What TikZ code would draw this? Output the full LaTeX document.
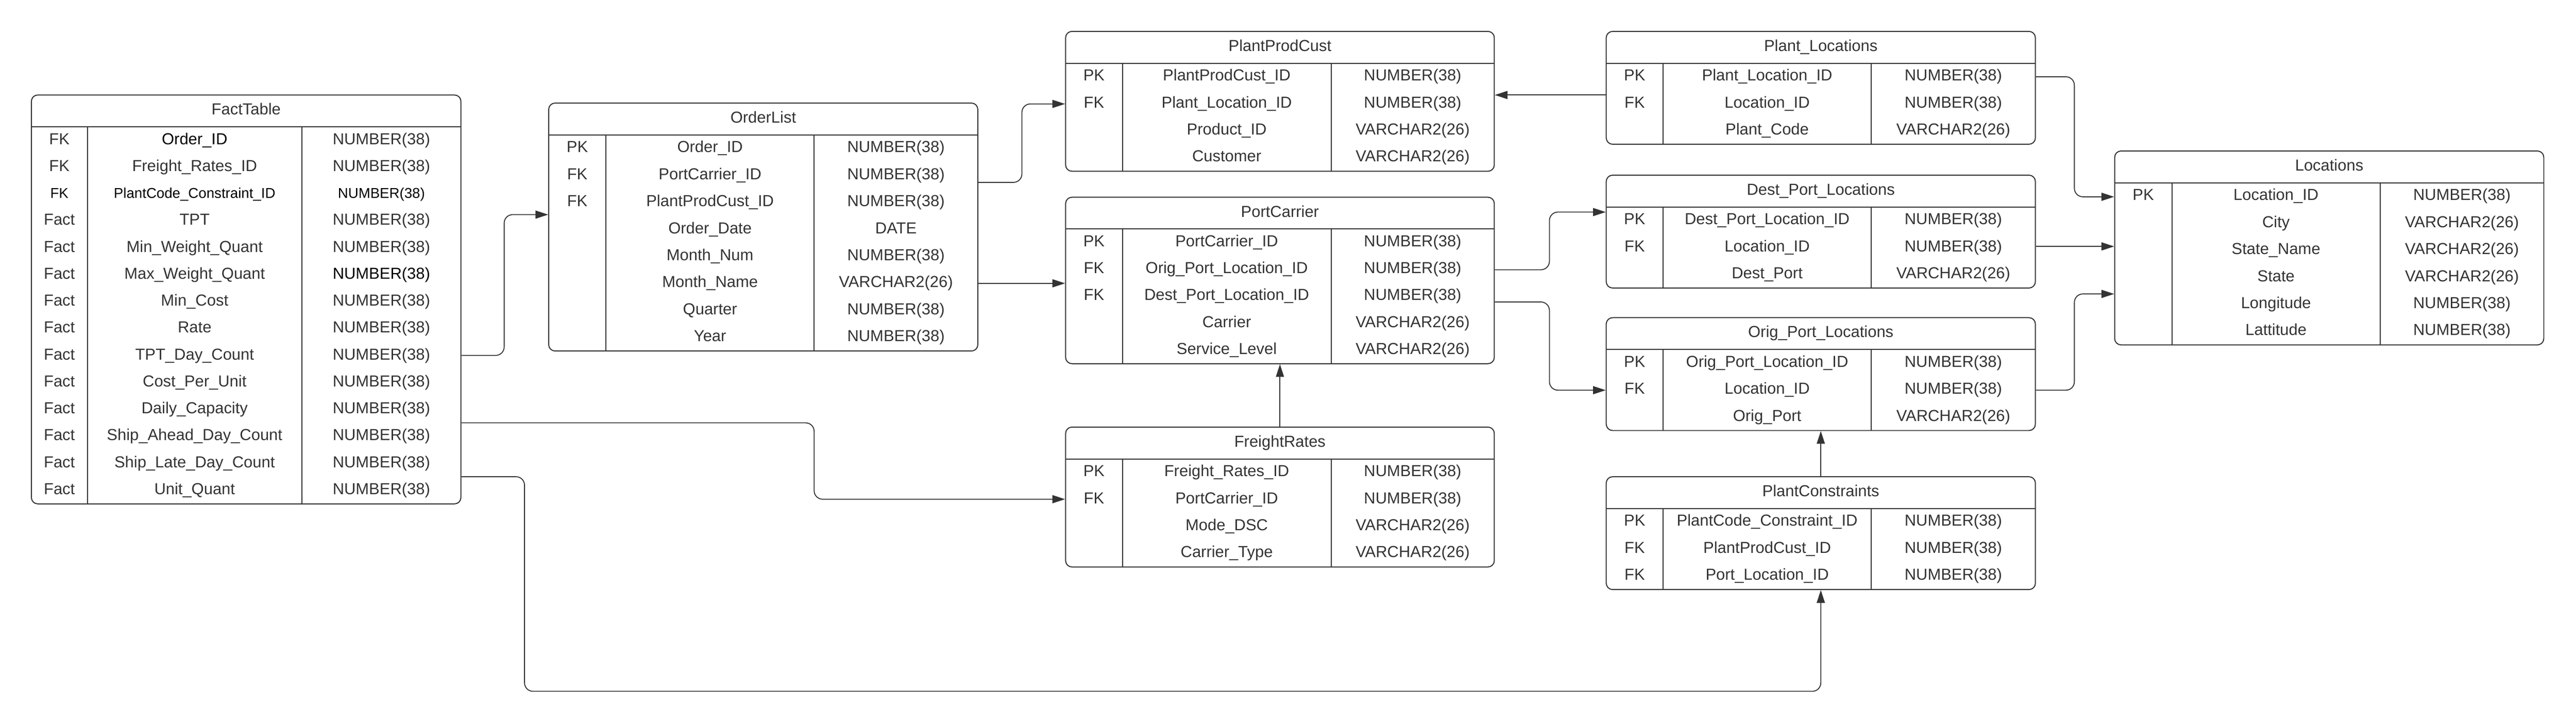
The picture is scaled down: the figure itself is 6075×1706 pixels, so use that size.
\documentclass[tikz,border=0pt]{standalone}
\usepackage{fontspec}
\setmainfont{Liberation Sans}
\usetikzlibrary{arrows.meta,fit}
\definecolor{ink}{HTML}{333333}

\tikzset{
  tbl/.style={draw=ink, line width=0.6pt, rounded corners=3.75pt, inner sep=0pt},
  rule/.style={draw=ink, line width=0.6pt},
  txt/.style={anchor=base, inner sep=0pt, text=ink, font=\fontsize{9.4pt}{11pt}\selectfont},
  conn/.style={draw=ink, line width=0.55pt, rounded corners=5pt, -{Triangle[length=7.5pt,width=4.75pt]}},
}

% #1 id, #2 left, #3 top, #4 div1, #5 div2, #6 right, #7 nrows, #8 rowh, #9 title
\newcommand\erdtable[9]{%
  \pgfmathsetmacro\tL{#2}\pgfmathsetmacro\tA{#4}\pgfmathsetmacro\tB{#5}\pgfmathsetmacro\tR{#6}%
  \pgfmathsetmacro\tH{#3+75}\pgfmathsetmacro\tRH{#8}%
  \pgfmathsetmacro\tBot{#3+75+#7*#8}%
  \def\tID{#1}%
  \node[tbl, fit={(#2,#3) (#6,\tBot)}] (#1) {};
  \draw[rule] (#2,\tH) -- (#6,\tH);
  \draw[rule] (#4,\tH) -- (#4,\tBot);
  \draw[rule] (#5,\tH) -- (#5,\tBot);
  \node[txt] (#1-title) at ({(#2+#6)/2},{#3+46.5}) {#9};
}
% #1 row index, #2 key, #3 name, #4 type
\newcommand\erdrow[4]{%
  \pgfmathsetmacro\erdy{\tH+(#1-0.5)*\tRH+9.5}%
  \node[txt] (\tID-k#1) at ({(\tL+\tA)/2},\erdy) {#2};
  \node[txt] (\tID-n#1) at ({(\tA+\tB)/2},\erdy) {#3};
  \node[txt] (\tID-d#1) at ({(\tB+\tR)/2},\erdy) {#4};
}
\newcommand\smblk[1]{{\fontsize{8.4pt}{10pt}\selectfont\color{black}#1}}

\begin{document}
\begin{tikzpicture}[x=0.25pt,y=-0.25pt]
\useasboundingbox (0,0) rectangle (6075,1706);

% FactTable
\erdtable{FT}{74}{224}{206}{712}{1087}{14}{63.5}{FactTable}
\erdrow{1}{FK}{\color{black}Order\_ID}{NUMBER(38)}
\erdrow{2}{FK}{Freight\_Rates\_ID}{NUMBER(38)}
\erdrow{3}{\smblk{FK}}{\smblk{PlantCode\_Constraint\_ID}}{\smblk{NUMBER(38)}}
\erdrow{4}{Fact}{TPT}{NUMBER(38)}
\erdrow{5}{Fact}{Min\_Weight\_Quant}{NUMBER(38)}
\erdrow{6}{Fact}{Max\_Weight\_Quant}{\color{black}NUMBER(38)}
\erdrow{7}{Fact}{Min\_Cost}{NUMBER(38)}
\erdrow{8}{Fact}{Rate}{NUMBER(38)}
\erdrow{9}{Fact}{TPT\_Day\_Count}{NUMBER(38)}
\erdrow{10}{Fact}{Cost\_Per\_Unit}{NUMBER(38)}
\erdrow{11}{Fact}{Daily\_Capacity}{NUMBER(38)}
\erdrow{12}{Fact}{Ship\_Ahead\_Day\_Count}{NUMBER(38)}
\erdrow{13}{Fact}{Ship\_Late\_Day\_Count}{NUMBER(38)}
\erdrow{14}{Fact}{Unit\_Quant}{NUMBER(38)}

% OrderList
\erdtable{OL}{1294}{243}{1429}{1920}{2306}{8}{63.7}{OrderList}
\erdrow{1}{PK}{Order\_ID}{NUMBER(38)}
\erdrow{2}{FK}{PortCarrier\_ID}{NUMBER(38)}
\erdrow{3}{FK}{PlantProdCust\_ID}{NUMBER(38)}
\erdrow{4}{}{Order\_Date}{DATE}
\erdrow{5}{}{Month\_Num}{NUMBER(38)}
\erdrow{6}{}{Month\_Name}{VARCHAR2(26)}
\erdrow{7}{}{Quarter}{NUMBER(38)}
\erdrow{8}{}{Year}{NUMBER(38)}

% PlantProdCust
\erdtable{PPC}{2513}{74}{2647}{3139}{3524}{4}{63.7}{PlantProdCust}
\erdrow{1}{PK}{PlantProdCust\_ID}{NUMBER(38)}
\erdrow{2}{FK}{Plant\_Location\_ID}{NUMBER(38)}
\erdrow{3}{}{Product\_ID}{VARCHAR2(26)}
\erdrow{4}{}{Customer}{VARCHAR2(26)}

% PortCarrier
\erdtable{PC}{2513}{465}{2647}{3139}{3524}{5}{63.5}{PortCarrier}
\erdrow{1}{PK}{PortCarrier\_ID}{NUMBER(38)}
\erdrow{2}{FK}{Orig\_Port\_Location\_ID}{NUMBER(38)}
\erdrow{3}{FK}{Dest\_Port\_Location\_ID}{NUMBER(38)}
\erdrow{4}{}{Carrier}{VARCHAR2(26)}
\erdrow{5}{}{Service\_Level}{VARCHAR2(26)}

% FreightRates
\erdtable{FR}{2513}{1007}{2647}{3139}{3524}{4}{63.7}{FreightRates}
\erdrow{1}{PK}{Freight\_Rates\_ID}{NUMBER(38)}
\erdrow{2}{FK}{PortCarrier\_ID}{NUMBER(38)}
\erdrow{3}{}{Mode\_DSC}{VARCHAR2(26)}
\erdrow{4}{}{Carrier\_Type}{VARCHAR2(26)}

% Plant_Locations
\erdtable{PL}{3788}{74}{3922}{4413}{4800}{3}{63.7}{Plant\_Locations}
\erdrow{1}{PK}{Plant\_Location\_ID}{NUMBER(38)}
\erdrow{2}{FK}{Location\_ID}{NUMBER(38)}
\erdrow{3}{}{Plant\_Code}{VARCHAR2(26)}

% Dest_Port_Locations
\erdtable{DPL}{3788}{413}{3922}{4413}{4800}{3}{63.7}{Dest\_Port\_Locations}
\erdrow{1}{PK}{Dest\_Port\_Location\_ID}{NUMBER(38)}
\erdrow{2}{FK}{Location\_ID}{NUMBER(38)}
\erdrow{3}{}{Dest\_Port}{VARCHAR2(26)}

% Orig_Port_Locations
\erdtable{OPL}{3788}{749}{3922}{4413}{4800}{3}{63.7}{Orig\_Port\_Locations}
\erdrow{1}{PK}{Orig\_Port\_Location\_ID}{NUMBER(38)}
\erdrow{2}{FK}{Location\_ID}{NUMBER(38)}
\erdrow{3}{}{Orig\_Port}{VARCHAR2(26)}

% PlantConstraints
\erdtable{PCN}{3788}{1124}{3922}{4413}{4800}{3}{63.7}{PlantConstraints}
\erdrow{1}{PK}{PlantCode\_Constraint\_ID}{NUMBER(38)}
\erdrow{2}{FK}{PlantProdCust\_ID}{NUMBER(38)}
\erdrow{3}{FK}{Port\_Location\_ID}{NUMBER(38)}

% Locations
\erdtable{LOC}{4987}{356}{5122}{5613}{5999}{6}{63.7}{Locations}
\erdrow{1}{PK}{Location\_ID}{NUMBER(38)}
\erdrow{2}{}{City}{VARCHAR2(26)}
\erdrow{3}{}{State\_Name}{VARCHAR2(26)}
\erdrow{4}{}{State}{VARCHAR2(26)}
\erdrow{5}{}{Longitude}{NUMBER(38)}
\erdrow{6}{}{Lattitude}{NUMBER(38)}

% connectors
\draw[conn] (FT.east |- 0,838) -- (1189,838) -- (1189,506) -- (OL.west |- 0,506);
\draw[conn] (FT.east |- 0,997) -- (1920,997) -- (1920,1177) -- (FR.west |- 0,1177);
\draw[conn] (FT.east |- 0,1124) -- (1237,1124) -- (1237,1630) -- (4294,1630) -- (PCN.south);
\draw[conn] (OL.east |- 0,430) -- (2410,430) -- (2410,245) -- (PPC.west |- 0,245);
\draw[conn] (OL.east |- 0,668) -- (PC.west |- 0,668);
\draw[conn] (PC.east |- 0,636) -- (3654,636) -- (3654,500) -- (DPL.west |- 0,500);
\draw[conn] (PC.east |- 0,712) -- (3654,712) -- (3654,920) -- (OPL.west |- 0,920);
\draw[conn] (PL.west |- 0,224) -- (PPC.east |- 0,224);
\draw[conn] (FR.north) -- (PC.south);
\draw[conn] (PCN.north) -- (OPL.south);
\draw[conn] (PL.east |- 0,181) -- (4892,181) -- (4892,464) -- (LOC.west |- 0,464);
\draw[conn] (DPL.east |- 0,581) -- (LOC.west |- 0,581);
\draw[conn] (OPL.east |- 0,920) -- (4892,920) -- (4892,693) -- (LOC.west |- 0,693);
\end{tikzpicture}
\end{document}
